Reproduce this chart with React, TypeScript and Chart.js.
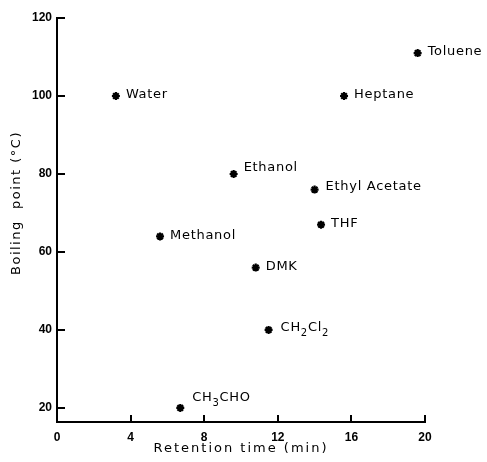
import React, { useEffect, useRef } from "react";
import { Chart, registerables } from "chart.js";

Chart.register(...registerables);

const solvents = ["Water", "Toluene", "Heptane", "Ethanol", "Ethyl Acetate", "THF", "Methanol", "DMK", "CH_2Cl_2", "CH_3CHO"];
const retentionTimes = [3.2, 19.6, 15.6, 9.6, 14.0, 14.35, 5.6, 10.8, 11.5, 6.7];
const boilingPoints = [100, 111, 100, 80, 76, 67, 64, 56, 40, 20];
const xTicks = [0, 4, 8, 12, 16, 20];
const yTicks = [20, 40, 60, 80, 100, 120];
const xTitle = "Retention time (min)";
const yTitle = "Boiling  point (°C)";

const labelOffsets: Record<string, [number, number]> = {
  Ethanol: [10, -6],
  "Ethyl Acetate": [11, -3],
  CH_2Cl_2: [12, -2],
  CH_3CHO: [12, -10],
};

const LABEL_FONT = "13px 'DejaVu Sans'";
const SUB_FONT = "10px 'DejaVu Sans'";

function drawLabel(ctx: CanvasRenderingContext2D, text: string, x: number, y: number) {
  const parts = text.split(/(_\d)/).filter((p) => p.length > 0);
  let cx = x;
  for (const p of parts) {
    if (p.startsWith("_")) {
      ctx.font = SUB_FONT;
      const s = p.slice(1);
      ctx.fillText(s, cx, y + 5);
      cx += ctx.measureText(s).width;
    } else {
      ctx.font = LABEL_FONT;
      ctx.fillText(p, cx, y);
      cx += ctx.measureText(p).width;
    }
  }
}

const annotPlugin = {
  id: "annot",
  afterDraw(chart: any) {
    const ctx: CanvasRenderingContext2D = chart.ctx;
    const xs = chart.scales.x;
    const ys = chart.scales.y;
    const area = chart.chartArea;
    ctx.save();
    ctx.strokeStyle = "#000";
    ctx.lineWidth = 2;
    ctx.beginPath();
    for (const v of yTicks) {
      const py = Math.round(ys.getPixelForValue(v));
      ctx.moveTo(area.left, py);
      ctx.lineTo(area.left + 8, py);
    }
    for (const v of xTicks) {
      if (v === 0) continue;
      const px = Math.round(xs.getPixelForValue(v));
      ctx.moveTo(px, area.bottom);
      ctx.lineTo(px, area.bottom - 7);
    }
    ctx.stroke();

    ctx.fillStyle = "#000";
    ctx.textBaseline = "middle";
    ctx.textAlign = "left";
    (ctx as any).letterSpacing = "0.7px";
    const meta = chart.getDatasetMeta(0);
    meta.data.forEach((el: any, i: number) => {
      const name = solvents[i];
      const [dx, dy] = labelOffsets[name] || [10, -1];
      drawLabel(ctx, name, el.x + dx, el.y + dy);
    });

    ctx.font = "13px 'DejaVu Sans'";
    (ctx as any).letterSpacing = "2px";
    ctx.textAlign = "center";
    ctx.fillText(xTitle, (area.left + area.right) / 2, 449);
    (ctx as any).letterSpacing = "1.5px";
    ctx.translate(17, 203);
    ctx.rotate(-Math.PI / 2);
    ctx.fillText(yTitle, 0, 0);
    ctx.restore();
  },
};

export default function App() {
  const ref = useRef<HTMLCanvasElement | null>(null);
  useEffect(() => {
    if (!ref.current) return;
    const chart = new Chart(ref.current, {
      type: "scatter",
      data: {
        datasets: [
          {
            data: retentionTimes.map((x, i) => ({ x, y: boilingPoints[i] })),
            pointStyle: "star",
            pointRadius: 4,
            borderWidth: 2.2,
            borderColor: "#000",
            backgroundColor: "#000",
          },
        ],
      },
      options: {
        animation: false,
        responsive: false,
        layout: { padding: { left: 0, top: 18, right: 62, bottom: 0 } },
        plugins: { legend: { display: false }, tooltip: { enabled: false } },
        scales: {
          x: {
            type: "linear",
            min: 0,
            max: 20,
            afterBuildTicks: (s: any) => {
              s.ticks = xTicks.map((v) => ({ value: v }));
            },
            afterFit: (s: any) => {
              s.height = 40;
            },
            ticks: {
              color: "#000",
              padding: 8,
              font: { family: "'Liberation Sans'", size: 12, weight: "bold" },
            },
            grid: { display: false, drawTicks: false },
            border: { display: true, color: "#000", width: 2 },
          },
          y: {
            type: "linear",
            min: 16.4,
            max: 120,
            afterBuildTicks: (s: any) => {
              s.ticks = yTicks.map((v) => ({ value: v }));
            },
            afterFit: (s: any) => {
              s.width = 57;
            },
            ticks: {
              color: "#000",
              padding: 5,
              font: { family: "'Liberation Sans'", size: 12, weight: "bold" },
            },
            grid: { display: false, drawTicks: false },
            border: { display: true, color: "#000", width: 2 },
          },
        },
      },
      plugins: [annotPlugin],
    });
    return () => chart.destroy();
  }, []);
  return (
    <div style={{ position: "absolute", left: 0, top: 0, width: 487, height: 462, background: "#fff" }}>
      <canvas ref={ref} width={487} height={462} />
    </div>
  );
}
